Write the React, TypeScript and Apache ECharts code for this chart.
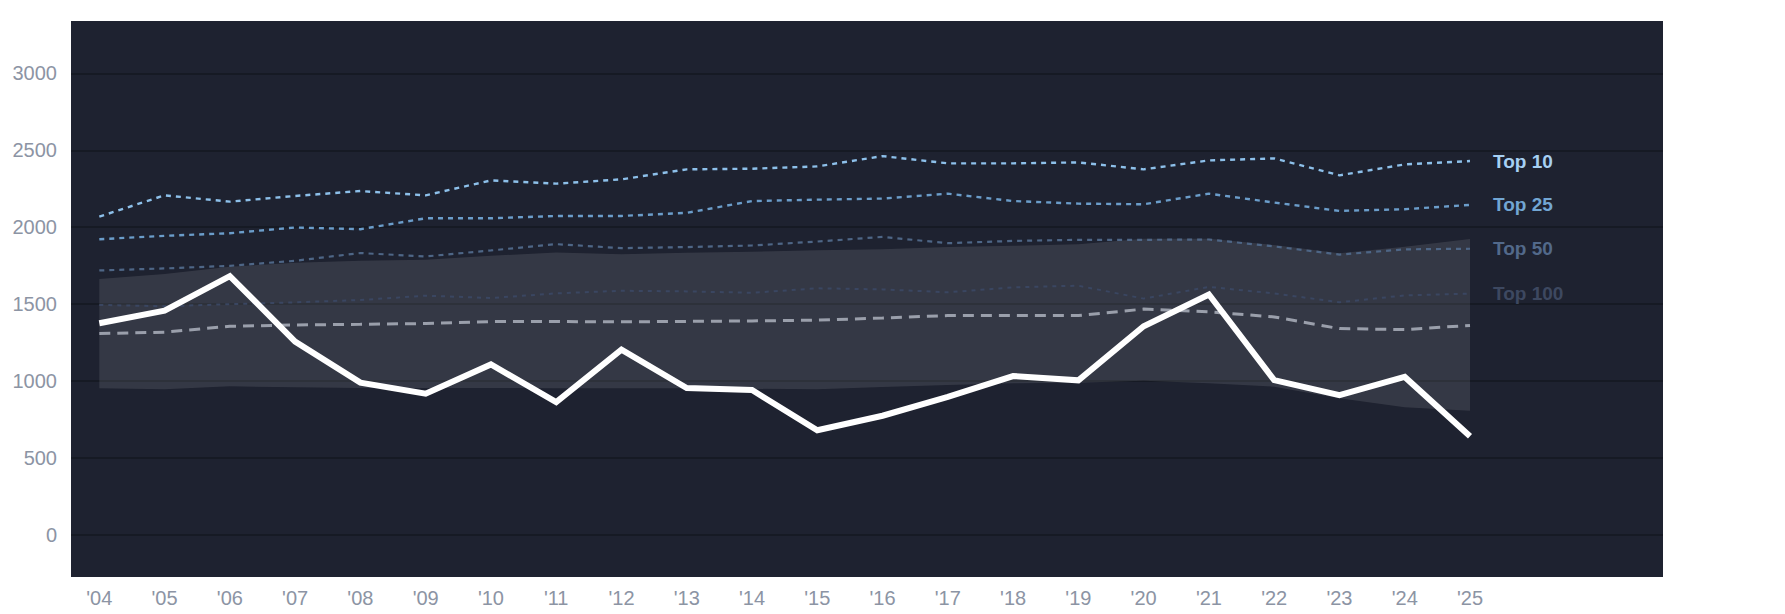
import React, { useEffect, useRef } from "react";
import * as echarts from "echarts";

const years = [2004, 2005, 2006, 2007, 2008, 2009, 2010, 2011, 2012, 2013, 2014, 2015, 2016, 2017, 2018, 2019, 2020, 2021, 2022, 2023, 2024, 2025];

const actual = [1376, 1458, 1682, 1257, 990, 918, 1108, 864, 1205, 955, 942, 681, 775, 897, 1033, 1005, 1356, 1563, 1006, 908, 1027, 642];
const median = [1309, 1318, 1356, 1365, 1369, 1374, 1387, 1387, 1385, 1388, 1391, 1396, 1410, 1426, 1426, 1426, 1468, 1450, 1417, 1341, 1335, 1362];
const top100 = [1495, 1486, 1500, 1512, 1527, 1555, 1540, 1570, 1587, 1583, 1574, 1603, 1596, 1577, 1609, 1620, 1536, 1612, 1570, 1512, 1557, 1568];
const top50 = [1719, 1732, 1749, 1782, 1832, 1810, 1849, 1890, 1864, 1871, 1881, 1907, 1937, 1896, 1911, 1918, 1918, 1920, 1875, 1822, 1856, 1860];
const top25 = [1922, 1944, 1961, 1998, 1987, 2058, 2058, 2073, 2073, 2093, 2170, 2179, 2186, 2218, 2170, 2153, 2149, 2218, 2160, 2106, 2117, 2145];
const top10 = [2069, 2207, 2166, 2203, 2235, 2207, 2304, 2283, 2311, 2376, 2380, 2395, 2462, 2415, 2415, 2421, 2376, 2434, 2447, 2337, 2408, 2430];
const bandUpper = [1663, 1696, 1743, 1769, 1782, 1788, 1814, 1836, 1825, 1834, 1840, 1851, 1857, 1872, 1879, 1890, 1925, 1925, 1884, 1830, 1873, 1923];
const bandLower = [953, 947, 966, 960, 955, 955, 955, 953, 953, 953, 950, 947, 962, 975, 986, 990, 1002, 986, 964, 888, 830, 808];

const yTicks = [0, 500, 1000, 1500, 2000, 2500, 3000];

const pairs = (vals: number[]) => years.map((y, i) => [y, vals[i]]);

const FONT = "'Liberation Sans', Arial, Helvetica, sans-serif";

export default function App() {
  const ref = useRef<HTMLDivElement>(null);
  useEffect(() => {
    if (!ref.current) return;
    const chart = echarts.init(ref.current, null, { renderer: "svg" });

    const dotted = (name: string, vals: number[], color: string, labelColor: string, width: number, dash: number[]) => ({
      name,
      type: "line",
      xAxisIndex: 1,
      yAxisIndex: 1,
      data: pairs(vals),
      symbol: "none",
      clip: false,
      z: 3,
      lineStyle: { color, width, type: dash },
      endLabel: {
        show: true,
        formatter: name,
        color: labelColor,
        fontSize: 19,
        fontWeight: "bold",
        fontFamily: FONT,
        distance: 23,
      },
    });

    const option: any = {
      animation: false,
      backgroundColor: "#ffffff",
      graphic: [
        {
          type: "rect",
          z: -100,
          silent: true,
          shape: { x: 71, y: 21, width: 1592, height: 556 },
          style: { fill: "#1e2230" },
        },
      ],
      grid: [
        { left: 71, right: 122, top: 73.3, bottom: 79 },
        { left: 99.3, right: 315, top: 73.3, bottom: 79 },
      ],
      xAxis: [
        { type: "value", gridIndex: 0, min: 0, max: 1, show: false },
        {
          type: "value",
          gridIndex: 1,
          min: years[0],
          max: years[years.length - 1],
          interval: 1,
          offset: 42,
          axisLine: { show: false },
          axisTick: { show: false },
          splitLine: { show: false },
          axisLabel: {
            margin: 11,
            fontSize: 20,
            color: "#8c94a4",
            fontFamily: FONT,
            formatter: (v: number) => "'" + String(v).slice(2),
          },
        },
      ],
      yAxis: [
        {
          type: "value",
          gridIndex: 0,
          min: yTicks[0],
          max: yTicks[yTicks.length - 1],
          interval: 500,
          axisLine: { show: false },
          axisTick: { show: false },
          splitLine: { show: true, lineStyle: { color: "#161a24", width: 2 } },
          axisLabel: {
            margin: 14,
            fontSize: 20,
            color: "#8c94a4",
            fontFamily: FONT,
            formatter: (v: number) => String(v),
          },
        },
        {
          type: "value",
          gridIndex: 1,
          min: yTicks[0],
          max: yTicks[yTicks.length - 1],
          show: false,
          splitLine: { show: false },
        },
      ],
      series: [
        {
          name: "Range",
          type: "custom",
          xAxisIndex: 1,
          yAxisIndex: 1,
          coordinateSystem: "cartesian2d",
          clip: false,
          z: 2,
          silent: true,
          data: pairs(bandUpper),
          renderItem: (params: any, api: any) => {
            if (params.dataIndex !== 0) return null;
            const pts: number[][] = [];
            years.forEach((y, i) => pts.push(api.coord([y, bandUpper[i]])));
            for (let i = years.length - 1; i >= 0; i--) pts.push(api.coord([years[i], bandLower[i]]));
            return {
              type: "polygon",
              shape: { points: pts },
              style: { fill: "rgba(255,255,255,0.1)" },
            };
          },
        },
        dotted("Top 100", top100, "#3a4661", "#3d4860", 2, [4, 5]),
        dotted("Top 50", top50, "#4e6686", "#52698a", 2.2, [5, 5]),
        dotted("Top 25", top25, "#6b9dca", "#72a6d3", 2.4, [5, 5]),
        dotted("Top 10", top10, "#8dc0ea", "#a6d0f3", 2.4, [5, 5]),
        {
          name: "Median",
          type: "line",
          xAxisIndex: 1,
          yAxisIndex: 1,
          data: pairs(median),
          symbol: "none",
          clip: false,
          z: 4,
          lineStyle: { color: "#9a9fab", width: 3, type: [11, 7] },
        },
        {
          name: "Actual",
          type: "line",
          xAxisIndex: 1,
          yAxisIndex: 1,
          data: pairs(actual),
          symbol: "none",
          clip: false,
          z: 5,
          lineStyle: { color: "#ffffff", width: 6, join: "miter", cap: "butt" },
        },
      ],
    };
    chart.setOption(option);
    return () => chart.dispose();
  }, []);

  return (
    <div
      ref={ref}
      style={{ position: "absolute", left: 0, top: 0, width: 1785, height: 614 }}
    />
  );
}
